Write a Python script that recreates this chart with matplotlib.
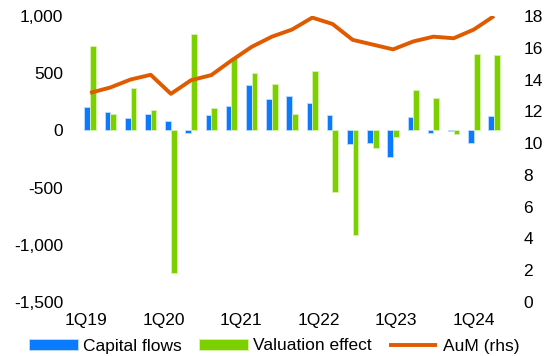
import numpy as np
import matplotlib
matplotlib.use('Agg')
import matplotlib.pyplot as plt
from matplotlib.ticker import FuncFormatter

plt.rcParams['font.family'] = ['Liberation Sans', 'DejaVu Sans']

quarters = ['1Q19', '2Q19', '3Q19', '4Q19', '1Q20', '2Q20', '3Q20', '4Q20',
            '1Q21', '2Q21', '3Q21', '4Q21', '1Q22', '2Q22', '3Q22', '4Q22',
            '1Q23', '2Q23', '3Q23', '4Q23', '1Q24']
capital_flows = [204, 160, 111, 140, 81, -20, 131, 215, 396, 276, 300,
                 242, 131, -116, -111, -233, 116, -20, -6, -108, 122]
valuation_effect = [742, 146, 367, 175, -1251, 841, 195, 631, 498, 407, 146,
                    515, -538, -917, -154, -58, 352, 282, -32, 669, 660]
aum = [13.16, 13.5, 14.0, 14.3, 13.1, 13.96, 14.28, 15.2, 16.06, 16.7, 17.15,
       17.9, 17.5, 16.5, 16.2, 15.9, 16.4, 16.7, 16.6, 17.15, 18.0]
tick_labels = ['1Q19', '1Q20', '1Q21', '1Q22', '1Q23', '1Q24']

blue = '#0A7BFF'
green = '#7DD000'
orange = '#E05A00'
fs = 12.5

fig = plt.figure(figsize=(5.48, 3.56), dpi=100)
ax = fig.add_axes([0.146, 0.152, 0.774, 0.803])
ax2 = ax.twinx()

x = np.arange(len(quarters))
w = 0.28
ax.bar(x - w / 2, capital_flows, w, color=blue, edgecolor='#BFDCFF', linewidth=0.6,
       label='Capital flows', zorder=2)
ax.bar(x + w / 2, valuation_effect, w, color=green, edgecolor='#D8F2B0', linewidth=0.6,
       label='Valuation effect', zorder=2)
ax2.plot(x, aum, color=orange, linewidth=2.8, label='AuM (rhs)', solid_capstyle='butt')

ax.set_xlim(-0.5, len(quarters) - 0.5)
ax.set_ylim(-1500, 1000)
ax.set_yticks(np.arange(-1500, 1001, 500))
ax.yaxis.set_major_formatter(FuncFormatter(lambda v, p: '{:,.0f}'.format(v)))
ax2.set_ylim(0, 18)
ax2.set_yticks(np.arange(0, 19, 2))

# category labels sit slightly off the groups in the original
ax.set_xticks(np.linspace(-0.2, 19.0, len(tick_labels)))
ax.set_xticklabels(tick_labels)

for a in (ax, ax2):
    for s in a.spines.values():
        s.set_visible(False)
    a.tick_params(length=0, labelsize=fs, colors='black')
ax.tick_params(axis='x', pad=8)
ax.tick_params(axis='y', pad=12)
ax2.tick_params(axis='y', pad=14)

h1, l1 = ax.get_legend_handles_labels()
h2, l2 = ax2.get_legend_handles_labels()
fig.legend(h1 + h2, l1 + l2, loc='center', bbox_to_anchor=(0.5, 1 - 346 / 356), ncol=3,
           frameon=False, fontsize=fs, handlelength=2.8, handleheight=0.6,
           handletextpad=0.3, columnspacing=1.0, borderpad=0)

fig.savefig('out.png', dpi=100)
